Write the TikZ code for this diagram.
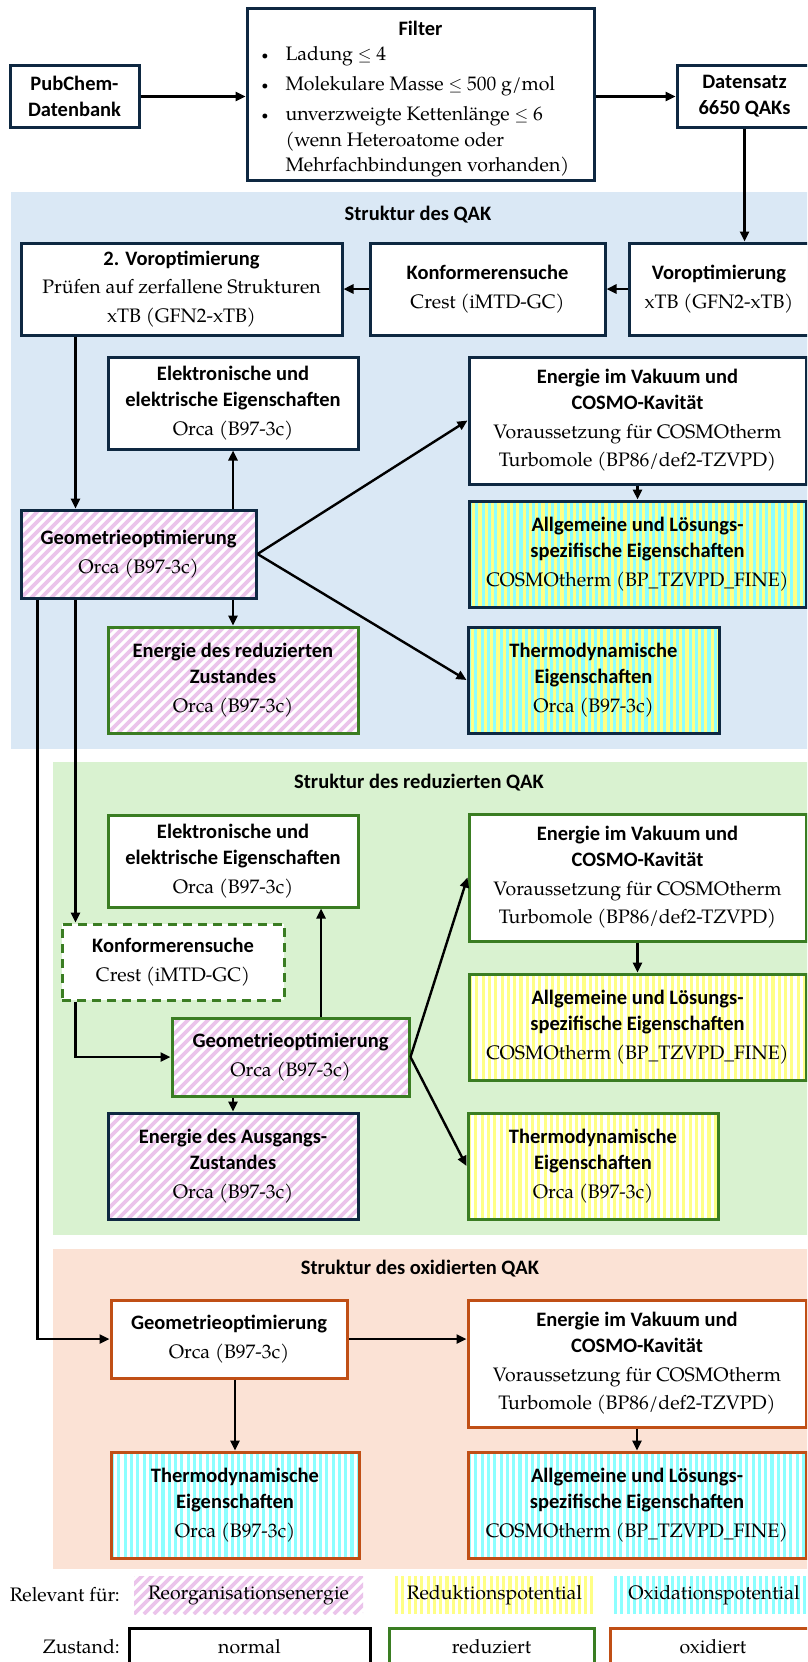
\documentclass[tikz,border=0pt]{standalone}
\usepackage{fontspec}
\setmainfont{TeX Gyre Pagella}
\newfontfamily\bfam{Carlito}
\usetikzlibrary{arrows.meta,calc}
\definecolor{blueR}{RGB}{218,232,245}
\definecolor{greenR}{RGB}{217,242,208}
\definecolor{orangeR}{RGB}{251,226,213}
\definecolor{dk}{RGB}{14,40,65}
\definecolor{gn}{RGB}{58,125,34}
\definecolor{og}{RGB}{192,79,21}
\definecolor{hp}{RGB}{235,196,235}
\definecolor{sy}{RGB}{255,255,133}
\definecolor{sc}{RGB}{140,255,255}
\newcommand\bff{\bfam\bfseries\fontsize{20.5}{26}\selectfont}
\newcommand\B[1]{{\bff #1}}
\newcommand\bul{\makebox[24pt][l]{\raisebox{1.5pt}{\fontsize{12}{12}\selectfont\textbullet}}}
\newcommand\leqsym{\scalebox{0.85}{$\leq$}}
\tikzset{
 bx/.style={draw=#1, line width=3pt, fill=white, align=center, inner sep=0pt, font=\fontsize{19.5}{28.5}\selectfont},
 bx/.default=dk,
 hatch/.style={path picture={\foreach \k in {-45,...,45}{\draw[hp,line width=3.6pt] ([xshift=\k*10pt]path picture bounding box.south west) -- ++(220pt,220pt);}}},
 vst/.style 2 args={fill=#1, path picture={\foreach \k in {0,...,60}{\fill[#2] ([xshift=\k*6.3pt]path picture bounding box.south west) rectangle ++(3.15pt,300pt);}}},
 arr/.style={line width=2.4pt, -{Triangle[length=10pt,width=9pt]}},
 ttl/.style={font=\bff},
 lg/.style={font=\fontsize{19.5}{24}\selectfont, inner sep=0pt},
}
\begin{document}
\begin{tikzpicture}[x=1pt,y=-1pt]
\clip (0,0) rectangle (807,1662);
\fill[white] (0,0) rectangle (807,1662);
% regions
\fill[blueR] (11,192) rectangle (812,749);
\fill[greenR] (53,762) rectangle (812,1235);
\fill[orangeR] (53,1249) rectangle (812,1569);
\node[ttl] (t1) at (418,215) {Struktur des QAK};
\node[ttl] (t2) at (419,783) {Struktur des reduzierten QAK};
\node[ttl] (t3) at (420,1269) {Struktur des oxidierten QAK};

% top row
\node[bx,minimum width=129pt,minimum height=61pt] (pub) at (74.5,96.5) {\B{PubChem-}\\[-2.5pt]\B{Datenbank}};
\node[bx,minimum width=347pt,minimum height=171pt] (filter) at (420.5,94.5) {\begin{minipage}{318pt}\kern9pt\centering\B{Filter}\par\vspace{-4.5pt}\raggedright\setlength{\parskip}{4.5pt}\fontsize{19.5}{25.5}\selectfont
\bul Ladung \leqsym{} 4\par
\bul Molekulare Masse \leqsym{} 500 g/mol\par
\bul unverzweigte Kettenlänge \leqsym{} 6\\
\hspace*{24pt}(wenn Heteroatome oder\\
\hspace*{24pt}Mehrfachbindungen vorhanden)\par
\end{minipage}};
\node[bx,minimum width=135pt,minimum height=61pt] (data) at (744.5,96.5) {\B{Datensatz}\\[-2.5pt]\B{6650 QAKs}};

% blue section
\node[bx,minimum width=321pt,minimum height=92pt] (vor2) at (181.5,289) {\B{2. Voroptimierung}\\Prüfen auf zerfallene Strukturen\\xTB (GFN2-xTB)};
\node[bx,minimum width=235pt,minimum height=92pt] (konf) at (487.5,289) {\B{Konformerensuche}\\Crest (iMTD-GC)};
\node[bx,minimum width=180pt,minimum height=92pt] (vor) at (719,289) {\B{Voroptimierung}\\xTB (GFN2-xTB)};
\node[bx,minimum width=250pt,minimum height=92pt] (elek) at (233,403) {\B{Elektronische und}\\[-2.5pt]\B{elektrische Eigenschaften}\\Orca (B97-3c)};
\node[bx,minimum width=337pt,minimum height=127pt] (vak) at (637.5,420.5) {\B{Energie im Vakuum und}\\[-2.5pt]\B{COSMO-Kavität}\\Voraussetzung für COSMOtherm\\Turbomole (BP86/def2-TZVPD)};
\node[bx,vst={sy}{sc},minimum width=337pt,minimum height=106pt] (allg) at (637.5,554) {\B{Allgemeine und Lösungs-}\\[-2.5pt]\B{spezifische Eigenschaften}\\COSMOtherm (BP\_TZVPD\_FINE)};
\node[bx,hatch,minimum width=235pt,minimum height=88pt] (geo) at (138.5,554) {\B{Geometrieoptimierung}\\Orca (B97-3c)};
\node[bx=gn,hatch,minimum width=250pt,minimum height=106pt] (ered) at (233,680) {\B{Energie des reduzierten}\\[-2.5pt]\B{Zustandes}\\Orca (B97-3c)};
\node[bx,vst={sy}{sc},minimum width=251pt,minimum height=106pt] (therm) at (593.5,680) {\B{Thermodynamische}\\[-2.5pt]\B{Eigenschaften}\\Orca (B97-3c)};

% green section
\node[bx=gn,minimum width=250pt,minimum height=92pt] (elekR) at (233,861) {\B{Elektronische und}\\[-2.5pt]\B{elektrische Eigenschaften}\\Orca (B97-3c)};
\node[bx=gn,dash pattern=on 9pt off 6pt,minimum width=222pt,minimum height=76pt] (konfR) at (173,962) {\B{Konformerensuche}\\Crest (iMTD-GC)};
\node[bx=gn,hatch,minimum width=237pt,minimum height=78pt] (geoR) at (290.5,1057) {\B{Geometrieoptimierung}\\Orca (B97-3c)};
\node[bx,hatch,minimum width=250pt,minimum height=106pt] (ausR) at (233,1166) {\B{Energie des Ausgangs-}\\[-2.5pt]\B{Zustandes}\\Orca (B97-3c)};
\node[bx=gn,minimum width=337pt,minimum height=127pt] (vakR) at (637.5,877.5) {\B{Energie im Vakuum und}\\[-2.5pt]\B{COSMO-Kavität}\\Voraussetzung für COSMOtherm\\Turbomole (BP86/def2-TZVPD)};
\node[bx=gn,vst={white}{sy},minimum width=337pt,minimum height=106pt] (allgR) at (637.5,1027) {\B{Allgemeine und Lösungs-}\\[-2.5pt]\B{spezifische Eigenschaften}\\COSMOtherm (BP\_TZVPD\_FINE)};
\node[bx=gn,vst={white}{sy},minimum width=250pt,minimum height=106pt] (thermR) at (593,1166) {\B{Thermodynamische}\\[-2.5pt]\B{Eigenschaften}\\Orca (B97-3c)};

% orange section
\node[bx=og,minimum width=236pt,minimum height=78pt] (geoO) at (229,1339) {\B{Geometrieoptimierung}\\Orca (B97-3c)};
\node[bx=og,minimum width=338pt,minimum height=127pt] (vakO) at (637,1363.5) {\B{Energie im Vakuum und}\\[-2.5pt]\B{COSMO-Kavität}\\Voraussetzung für COSMOtherm\\Turbomole (BP86/def2-TZVPD)};
\node[bx=og,vst={white}{sc},minimum width=248pt,minimum height=106pt] (thermO) at (235,1505) {\B{Thermodynamische}\\[-2.5pt]\B{Eigenschaften}\\Orca (B97-3c)};
\node[bx=og,vst={white}{sc},minimum width=338pt,minimum height=106pt] (allgO) at (637,1505) {\B{Allgemeine und Lösungs-}\\[-2.5pt]\B{spezifische Eigenschaften}\\COSMOtherm (BP\_TZVPD\_FINE)};

% legend
\node[lg,anchor=east] (rel) at (120,1595) {Relevant für:};
\node[lg,fill=white,hatch,minimum width=229pt,minimum height=38pt] (lp) at (248.5,1595) {Reorganisationsenergie};
\node[lg,vst={white}{sy},minimum width=199pt,minimum height=38pt] (ly) at (494.5,1595) {Reduktionspotential};
\node[lg,vst={white}{sc},minimum width=200pt,minimum height=38pt] (lc) at (714,1595) {Oxidationspotential};
\node[lg,anchor=east] (zus) at (120,1647) {Zustand:};
\node[bx=black,lg,minimum width=241pt,minimum height=38pt] (ln) at (249.5,1647) {normal};
\node[bx=gn,lg,minimum width=205pt,minimum height=38pt] (lr) at (491.5,1647) {reduziert};
\node[bx=og,lg,minimum width=206pt,minimum height=38pt] (lo) at (713,1647) {oxidiert};

% connectors
\coordinate (xa) at (75.5,0);
\coordinate (xb) at (37.5,0);
\coordinate (xc) at (321,0);
\draw[arr] (pub.east) -- (pub.east -| filter.west);
\draw[arr] (filter.east |- pub.east) -- (data.west);
\draw[arr] (data.south) -- (data.south |- vor.north);
\draw[arr] (vor.west) -- (konf.east);
\draw[arr] (konf.west) -- (vor2.east);
\draw[arr] (vor2.south -| xa) -- (geo.north -| xa);
\draw[arr] (geo.north -| elek.south) -- (elek.south);
\draw[arr] (geo.south -| ered.north) -- (ered.north);
\draw[arr] (geo.east) -- (vak.west);
\draw[arr] (geo.east) -- (therm.west);
\draw[arr] (vak.south) -- (allg.north);
\draw[arr] (geo.south -| xa) -- (konfR.north -| xa);
\draw[arr] (geo.south -| xb) |- (geoO.west);
\draw[arr] (konfR.south -| xa) |- (geoR.west);
\draw[arr] (geoR.north -| xc) -- (elekR.south -| xc);
\draw[arr] (geoR.south -| ausR.north) -- (ausR.north);
\draw[arr] (geoR.east) -- (vakR.west);
\draw[arr] (geoR.east) -- (thermR.west);
\draw[arr] (vakR.south) -- (allgR.north);
\draw[arr] (geoO.east) -- (geoO.east -| vakO.west);
\draw[arr] (geoO.south -| thermO.north) -- (thermO.north);
\draw[arr] (vakO.south) -- (allgO.north);
\end{tikzpicture}
\end{document}
